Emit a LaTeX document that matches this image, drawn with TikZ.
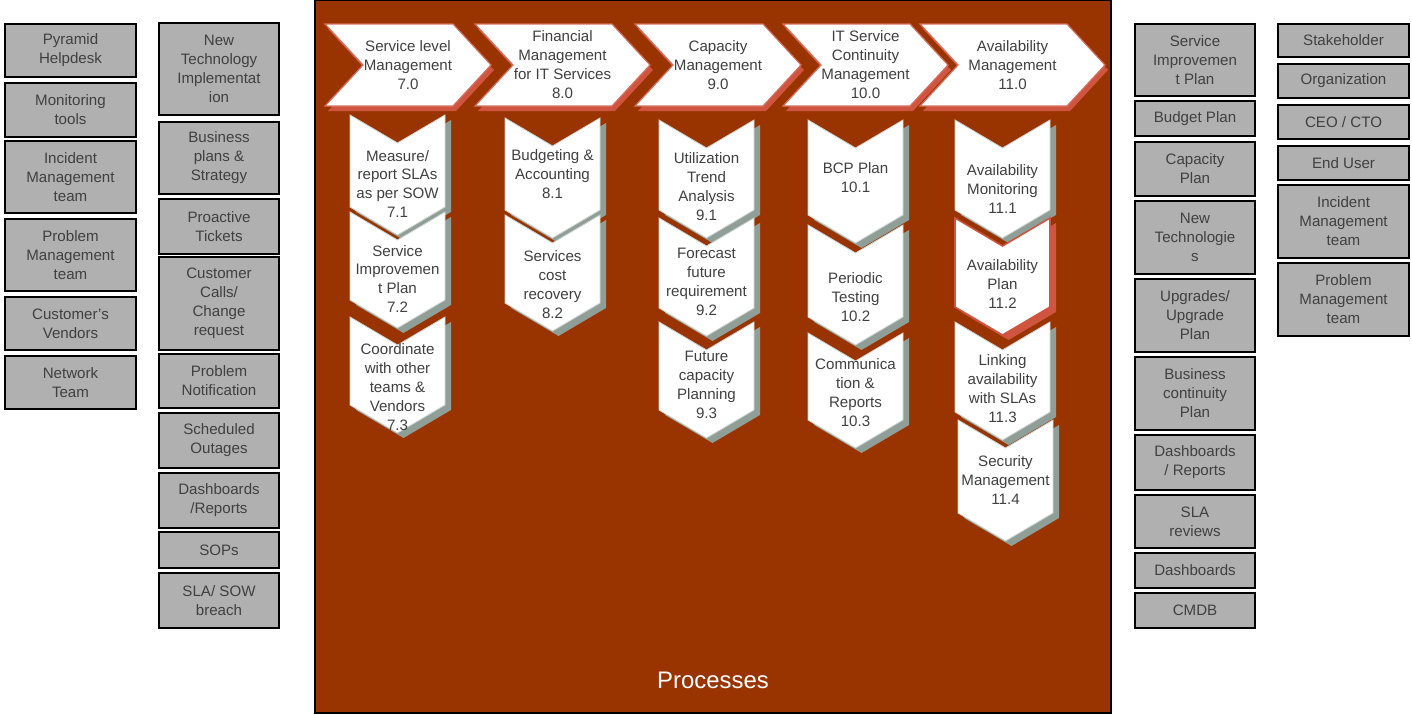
\documentclass[tikz,border=0pt]{standalone}
\usepackage{fontspec}
\setmainfont{Liberation Sans}
\definecolor{panelbrown}{HTML}{993300}
\definecolor{headred}{HTML}{D05540}
\definecolor{stepgray}{HTML}{8F9E96}
\definecolor{boxgray}{HTML}{B0B0B0}
\definecolor{inkgray}{HTML}{404040}
\tikzset{
	graybox/.style={fill=boxgray, draw=black, line width=0.8pt},
	sidetext/.style={text=inkgray, align=center, inner sep=0pt, font=\fontsize{8.6}{10.8}\selectfont},
	headface/.style={fill=white, draw=headred!85, line width=0.7pt},
	headshade/.style={fill=headred},
	greenface/.style={fill=white, draw=stepgray!45, line width=0.5pt},
	greenshade/.style={fill=stepgray},
	redface/.style={fill=white, draw=headred, line width=0.9pt},
	redshade/.style={fill=headred}
}
\def\sidebox(#1)(#2,#3)(#4,#5)#6{\filldraw[graybox] (#2,#3) rectangle (#4,#5); \node[sidetext] (#1) at ({(#2+#4)/2},{(#3+#5)/2}) {#6};}
\def\headarrow(#1,#2)(#3)#4#5{%
	\fill[headshade] (#1+3,#2+5) -- ++(#3,0) -- ++(38,41) -- ++(-38,41) -- ++(-#3,0) -- ++(38,-41) -- cycle;
	\filldraw[headface] (#1,#2) -- ++(#3,0) -- ++(38,41) -- ++(-38,41) -- ++(-#3,0) -- ++(38,-41) -- cycle;
	\node[sidetext] (#4) at (#1+#3/2+19,#2+41) {#5};}
\def\steparrow[#1](#2,#3)(#4)#5#6#7{%
	\fill[#1shade] (#2+6,#3+5) -- ++(47.5,28) -- ++(47.5,-28) -- ++(0,#4) -- ++(-47.5,28) -- ++(-47.5,-28) -- cycle;
	\filldraw[#1face] (#2,#3) -- ++(47.5,28) -- ++(47.5,-28) -- ++(0,#4) -- ++(-47.5,28) -- ++(-47.5,-28) -- cycle;
	\node[sidetext] (#5) at (#2+47.5,#6) {#7};}
\begin{document}
\begin{tikzpicture}[x=0.02cm, y=-0.02cm]
			%%%%% START %%%%%
			\useasboundingbox (0,0) rectangle (1412,714);
			
			\filldraw[fill=panelbrown, draw=black, line width=0.8pt] (315,0) rectangle (1111,713);
			\node[text=white, inner sep=0pt, font=\fontsize{13.6}{16}\selectfont] (processes) at (713,680) {Processes};
			
			\sidebox(helpdesk)(5,24)(136,77){Pyramid\\Helpdesk}
			\sidebox(montools)(5,83)(136,137){Monitoring\\tools}
			\sidebox(incteamL)(5,141)(136,213){Incident\\Management\\team}
			\sidebox(probteamL)(5,219)(136,291){Problem\\Management\\team}
			\sidebox(vendors)(5,297)(136,350){Customer’s\\Vendors}
			\sidebox(network)(5,356)(136,409){Network\\Team}
			
			\sidebox(newtech)(159,23)(279,115){New\\Technology\\Implementat\\ion}
			\sidebox(bizplans)(159,122)(279,194){Business\\plans \&\\Strategy}
			\sidebox(proactive)(159,199)(279,254){Proactive\\Tickets}
			\sidebox(calls)(159,257)(279,350){Customer\\Calls/\\Change\\request}
			\sidebox(probnote)(159,354)(279,408){Problem\\Notification}
			\sidebox(outages)(159,413)(279,468){Scheduled\\Outages}
			\sidebox(dashrepL)(159,473)(279,528){Dashboards\\/Reports}
			\sidebox(sops)(159,532)(279,568){SOPs}
			\sidebox(breach)(159,573)(279,628){SLA/ SOW\\breach}
			
			\sidebox(sip)(1135,24)(1255,96){Service\\Improvemen\\t Plan}
			\sidebox(budget)(1135,101)(1255,136){Budget Plan}
			\sidebox(capplan)(1135,142)(1255,196){Capacity\\Plan}
			\sidebox(newtechs)(1135,201)(1255,274){New\\Technologie\\s}
			\sidebox(upgrades)(1135,279)(1255,352){Upgrades/\\Upgrade\\Plan}
			\sidebox(bcplan)(1135,357)(1255,430){Business\\continuity\\Plan}
			\sidebox(dashrepR)(1135,435)(1255,490){Dashboards\\/ Reports}
			\sidebox(slarev)(1135,495)(1255,548){SLA\\reviews}
			\sidebox(dash)(1135,553)(1255,588){Dashboards}
			\sidebox(cmdb)(1135,593)(1255,628){CMDB}
			
			\sidebox(stake)(1278,24)(1409,57){Stakeholder}
			\sidebox(org)(1278,64)(1409,98){Organization}
			\sidebox(ceo)(1278,105)(1409,139){CEO / CTO}
			\sidebox(enduser)(1278,146)(1409,180){End User}
			\sidebox(incteamR)(1278,185)(1409,258){Incident\\Management\\team}
			\sidebox(probteamR)(1278,263)(1409,336){Problem\\Management\\team}
			
			\headarrow(325,24)(128){slm}{Service level\\Management\\7.0}
			\headarrow(475,24)(137){fin}{Financial\\Management\\for IT Services\\8.0}
			\headarrow(635,24)(128){cap}{Capacity\\Management\\9.0}
			\headarrow(783,24)(127){itscm}{IT Service\\Continuity\\Management\\10.0}
			\headarrow(920,24)(147){avail}{Availability\\Management\\11.0}
			
			\steparrow[green](350,115)(92){slma}{184}{Measure/\\report SLAs\\as per SOW\\7.1}
			\steparrow[green](350,212)(88){slmb}{279}{Service\\Improvemen\\t Plan\\7.2}
			\steparrow[green](350,317)(88){slmc}{387}{Coordinate\\with other\\teams \&\\Vendors\\7.3}
			
			\steparrow[green](505,118)(92){fina}{174}{Budgeting \&\\Accounting\\8.1}
			\steparrow[green](505,215)(88){finb}{285}{Services\\cost\\recovery\\8.2}
			
			\steparrow[green](659,120)(90){capa}{187}{Utilization\\Trend\\Analysis\\9.1}
			\steparrow[green](659,218)(90){capb}{282}{Forecast\\future\\requirement\\9.2}
			\steparrow[green](659,322)(88){capc}{385}{Future\\capacity\\Planning\\9.3}
			
			\steparrow[green](808,120)(95){itsa}{178}{BCP Plan\\10.1}
			\steparrow[green](808,225)(92){itsb}{297}{Periodic\\Testing\\10.2}
			\steparrow[green](808,333)(87){itsc}{393}{Communica\\tion \&\\Reports\\10.3}
			
			\steparrow[green](955,120)(90){avla}{189}{Availability\\Monitoring\\11.1}
			\steparrow[red](955,218)(89){avlb}{284}{Availability\\Plan\\11.2}
			\steparrow[green](955,322)(90){avlc}{389}{Linking\\availability\\with SLAs\\11.3}
			\steparrow[green](958,420)(93){avld}{480}{Security\\Management\\11.4}
			
			%%%%% END %%%%%
\end{tikzpicture}
\end{document}
